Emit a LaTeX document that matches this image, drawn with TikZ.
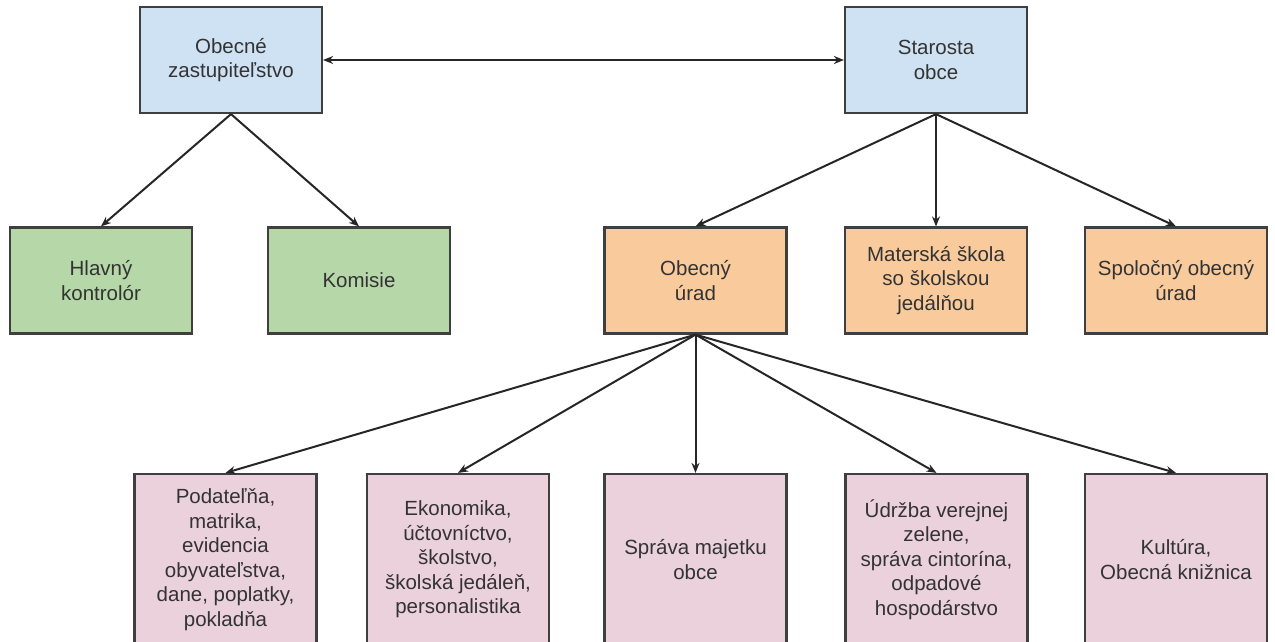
\documentclass[tikz,border=0pt]{standalone}
\usepackage{fontspec}
\setmainfont{Liberation Sans}
\usetikzlibrary{arrows.meta}
\definecolor{bluebox}{HTML}{CFE2F3}
\definecolor{greenbox}{HTML}{B6D7A8}
\definecolor{orangebox}{HTML}{F9CB9C}
\definecolor{pinkbox}{HTML}{EAD1DC}
\definecolor{edgec}{HTML}{3F3F3F}
\definecolor{textc}{HTML}{333333}
\definecolor{linec}{HTML}{262626}
\tikzset{
  orgbox/.style={draw=edgec, line width=2.2pt, rectangle, minimum width=182pt, minimum height=106pt,
    align=center, text=textc, font=\fontsize{20.5}{24.5}\selectfont, inner sep=2pt},
  bluestyle/.style={orgbox, fill=bluebox},
  greenstyle/.style={orgbox, fill=greenbox},
  orangestyle/.style={orgbox, fill=orangebox},
  pinkstyle/.style={orgbox, fill=pinkbox, minimum height=171pt},
  conn/.style={draw=linec, line width=2pt, -{Stealth[length=10pt,width=8pt]}},
  dconn/.style={draw=linec, line width=2pt, {Stealth[length=10pt,width=8pt]}-{Stealth[length=10pt,width=8pt]}}
}
\begin{document}
\begin{tikzpicture}[x=1pt,y=-1pt]
\useasboundingbox (0,0) rectangle (1275,642);
\clip (0,0) rectangle (1275,642);
\fill[white] (0,0) rectangle (1275,642);
% row 1
\node[bluestyle] (oz) at (231,60) {Obecné\\zastupiteľstvo};
\node[bluestyle] (so) at (936,60) {Starosta\\obce};
% row 2
\node[greenstyle] (hk) at (101,280.5) {Hlavný\\kontrolór};
\node[greenstyle] (ko) at (359,280.5) {Komisie};
\node[orangestyle] (ou) at (695.5,280.5) {Obecný\\úrad};
\node[orangestyle] (ms) at (936,280.5) {Materská škola\\so školskou\\jedálňou};
\node[orangestyle] (sp) at (1176,280.5) {Spoločný obecný\\úrad};
% row 3
\node[pinkstyle] (p1) at (225.5,559.5) {Podateľňa,\\matrika,\\evidencia\\obyvateľstva,\\dane, poplatky,\\pokladňa};
\node[pinkstyle] (p2) at (458,559.5) {Ekonomika,\\účtovníctvo,\\školstvo,\\školská jedáleň,\\personalistika};
\node[pinkstyle] (p3) at (695.5,559.5) {Správa majetku\\obce};
\node[pinkstyle] (p4) at (936.5,559.5) {Údržba verejnej\\zelene,\\správa cintorína,\\odpadové\\hospodárstvo};
\node[pinkstyle] (p5) at (1176,559.5) {Kultúra,\\Obecná knižnica};
% connectors
\draw[dconn] (oz.east) -- (so.west);
\draw[conn] (oz.south) -- (hk.north);
\draw[conn] (oz.south) -- (ko.north);
\draw[conn] (so.south) -- (ou.north);
\draw[conn] (so.south) -- (ms.north);
\draw[conn] (so.south) -- (sp.north);
\draw[conn] (ou.south) -- (p1.north);
\draw[conn] (ou.south) -- (p2.north);
\draw[conn] (ou.south) -- (p3.north);
\draw[conn] (ou.south) -- (p4.north);
\draw[conn] (ou.south) -- (p5.north);
\end{tikzpicture}
\end{document}
